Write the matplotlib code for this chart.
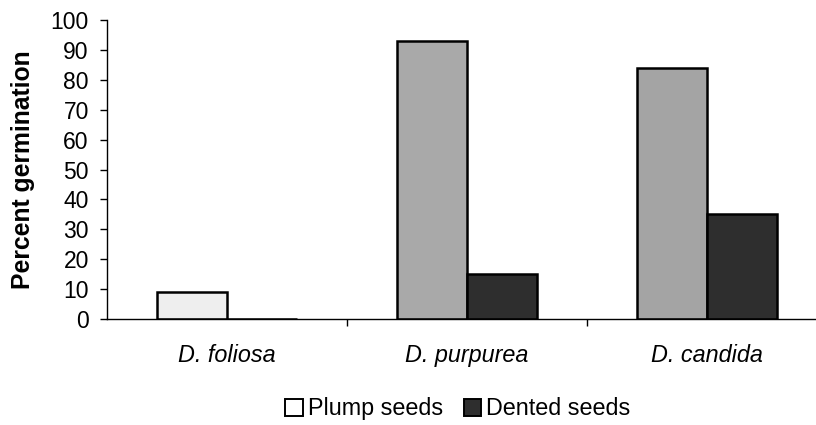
import matplotlib
matplotlib.use("Agg")
import matplotlib.pyplot as plt
import numpy as np
from matplotlib.patches import Patch

categories = ["D. foliosa", "D. purpurea", "D. candida"]
plump = [9, 93, 84]
dented = [0, 15, 35]
yticks = list(range(0, 101, 10))

plump_colors = ["#eeeeee", "#a9a9a9", "#a4a4a4"]
dented_color = "#2e2e2e"

plt.rcParams['font.family'] = ['Liberation Sans', 'DejaVu Sans']
fig = plt.figure(figsize=(8.16, 4.25), dpi=100)
ax = fig.add_axes([0.131, 0.249, 0.869, 0.704])

x = np.arange(len(categories))
w = 0.29
ax.bar(x - w/2, plump, width=w, color=plump_colors, edgecolor="black", linewidth=1.8, label="Plump seeds")
ax.bar(x + w/2, dented, width=w, color=dented_color, edgecolor="black", linewidth=1.8, label="Dented seeds")

ax.set_xlim(-0.5, -0.5 + 709/240)
ax.set_ylim(0, 100)
ax.set_yticks(yticks)
ax.set_yticklabels([str(t) for t in yticks], fontsize=16.5)
ax.set_xticks([0.5, 1.5])
ax.set_xticklabels([])
ax.set_xticks(x, minor=True)
ax.set_xticklabels(categories, minor=True, fontsize=16.8, style="italic")
ax.tick_params(axis="x", which="minor", length=0, pad=18)
ax.tick_params(axis="x", which="major", direction="out", length=5, width=1)
ax.tick_params(axis="y", direction="out", length=5, width=1, pad=8)
for s in ["top", "right"]:
    ax.spines[s].set_visible(False)
ax.spines["left"].set_linewidth(1.0)
ax.spines["bottom"].set_linewidth(1.0)
ax.set_ylabel("Percent germination", fontsize=17.8, fontweight="bold", labelpad=11)

handles = [Patch(facecolor="white", edgecolor="black", linewidth=1.4),
           Patch(facecolor=dented_color, edgecolor="black", linewidth=1.4)]
fig.legend(handles, ["Plump seeds", "Dented seeds"], loc="center", bbox_to_anchor=(0.561, 0.038),
           ncol=2, frameon=False, fontsize=16.8, handlelength=0.75, handleheight=0.75,
           handletextpad=0.2, columnspacing=0.9)

fig.savefig("out.png", dpi=100)
